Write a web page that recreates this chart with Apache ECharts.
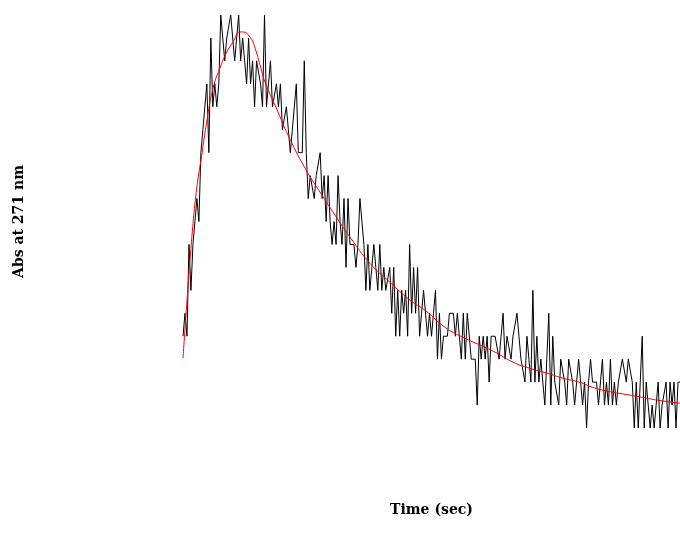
<!DOCTYPE html>
<html>
<head>
<meta charset="utf-8">
<script src="https://cdn.jsdelivr.net/npm/echarts@6/dist/echarts.min.js"></script>
<style>
  html, body { margin: 0; padding: 0; background: #fff; }
  #chart { width: 680px; height: 551px; }
</style>
</head>
<body>
<div id="chart"></div>
<script>
// raw absorbance trace (digitiser counts), one sample every 0.2 s
const sampleStep = 0.2
const absRaw = [
  4, 5, 4, 8, 6, 8, 9, 10, 9, 12,
  13, 13, 15, 12, 17, 14, 15, 14, 15, 18,
  18, 16, 17, 17, 18, 18, 16, 17, 18, 16,
  17, 16, 15, 17, 15, 16, 14, 16, 16, 15,
  14, 18, 14, 14, 16, 14, 14, 15, 14, 15,
  13, 13, 14, 13, 12, 13, 14, 15, 12, 12,
  12, 16, 12, 10, 11, 11, 10, 11, 11, 12,
  10, 11, 9, 11, 9, 8, 9, 8, 11, 9,
  8, 10, 7, 10, 8, 8, 8, 7, 8, 10,
  9, 8, 6, 8, 6, 7, 8, 7, 6, 8,
  6, 7, 6, 6, 7, 5, 7, 4, 6, 4,
  6, 5, 6, 4, 8, 5, 7, 5, 7, 4,
  5, 6, 6, 4, 5, 4, 5, 6, 3, 5,
  3, 4, 4, 4, 5, 5, 5, 4, 5, 4,
  3, 5, 3, 5, 5, 3, 3, 3, 1, 4,
  3, 4, 3, 4, 2, 4, 4, 4, 4, 3,
  3, 5, 3, 4, 4, 3, 4, 4, 5, 4,
  3, 3, 2, 4, 3, 2, 6, 2, 4, 2,
  3, 2, 1, 3, 5, 1, 4, 2, 2, 1,
  3, 3, 2, 1, 3, 3, 2, 1, 2, 3,
  3, 1, 2, 0, 2, 3, 2, 2, 2, 1,
  1, 3, 1, 2, 1, 3, 1, 2, 1, 2,
  2, 3, 3, 2, 3, 3, 2, 0, 2, 0,
  2, 4, 0, 2, 1, 0, 1, 0, 1, 2,
  0, 1, 1, 2, 0, 2, 1, 2, 0, 2,
  2
]

// fitted curve
const fitTime = [
  0, 0.37, 0.88, 1.38, 1.88, 2.38, 3.02, 3.72, 4.4, 5.03,
  5.73, 6.04, 6.74, 7.24, 7.75, 8.25, 9.56, 10.56, 12.27, 13.98,
  15.29, 16.8, 18.81, 20.82, 22.84, 24.35, 26.36, 28.37, 30.38, 31.59,
  33.2, 34.91, 36.62, 38.23, 39.94, 41.15, 42.76, 44.47, 46.18, 47.79,
  50
]
const fitAbs = [
  3.04, 5.35, 8.27, 10.45, 11.88, 13.33, 14.81, 15.69, 16.38, 16.82,
  17.26, 17.26, 17.04, 16.56, 15.82, 15.08, 13.77, 12.77, 11.33, 10.15,
  9.28, 8.32, 7.18, 6.35, 5.57, 5.13, 4.39, 3.91, 3.52, 3.26,
  2.87, 2.6, 2.39, 2.17, 1.99, 1.78, 1.6, 1.47, 1.34, 1.21,
  1.08
]

const rawData = absRaw.map((v, i) => [+(i * sampleStep).toFixed(2), v])
const fitData = fitTime.map((t, i) => [t, fitAbs[i]])

const titleFont = {
  fontFamily: 'DejaVu Serif',
  fontWeight: 'bold',
  fontSize: 14,
  color: '#000'
}

const chart = echarts.init(document.getElementById('chart'))
chart.setOption({
  animation: false,
  backgroundColor: '#fff',
  grid: {
    left: 183,
    right: 0,
    top: 15,
    bottom: 123
  },
  xAxis: {
    type: 'value',
    min: 0,
    max: 50,
    name: 'Time (sec)',
    nameLocation: 'middle',
    nameGap: 75,
    nameTextStyle: titleFont,
    axisLine: { show: false },
    axisTick: { show: false },
    axisLabel: { show: false },
    splitLine: { show: false }
  },
  yAxis: {
    type: 'value',
    min: 0,
    max: 18,
    name: 'Abs at 271 nm',
    nameLocation: 'middle',
    nameGap: 157,
    nameTextStyle: titleFont,
    axisLine: { show: false },
    axisTick: { show: false },
    axisLabel: { show: false },
    splitLine: { show: false }
  },
  series: [
    {
      name: 'data',
      type: 'line',
      data: rawData,
      showSymbol: false,
      lineStyle: { color: '#000', width: 1 },
      z: 2
    },
    {
      name: 'fit',
      type: 'line',
      data: fitData,
      smooth: true,
      showSymbol: false,
      lineStyle: { color: '#ff0000', width: 1 },
      z: 3
    }
  ]
})
</script>
</body>
</html>
